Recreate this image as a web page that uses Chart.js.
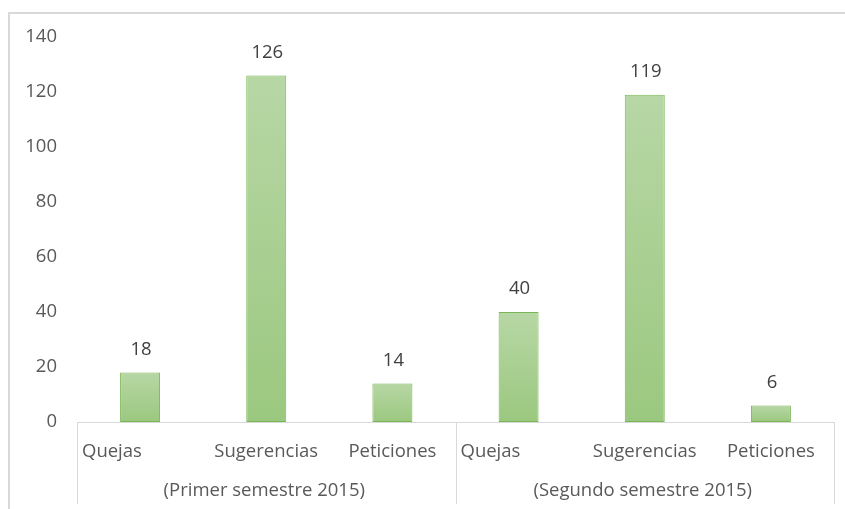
<!DOCTYPE html>
<html>
<head>
<meta charset="utf-8">
<script src="https://cdn.jsdelivr.net/npm/chart.js@4/dist/chart.umd.min.js"></script>
<style>
  html, body { margin: 0; padding: 0; background: #fff; }
  #wrap { position: relative; width: 845px; height: 509px; }
  #frame {
    position: absolute; left: 8px; top: 12px; right: 0; bottom: 0;
    border-top: 2px solid #d9d9d9; border-left: 2px solid #d9d9d9;
  }
  #chartCanvas { position: absolute; left: 0; top: 0; }
</style>
</head>
<body>
<div id="wrap">
  <div id="frame"></div>
  <canvas id="chartCanvas" width="845" height="509"></canvas>
</div>
<script>
// --- data ---
const groups = ["(Primer semestre 2015)", "(Segundo semestre 2015)"];
const categories = ["Quejas", "Sugerencias", "Peticiones"];
const primerSemestre = [18, 126, 14];
const segundoSemestre = [40, 119, 6];
const yTicks = [0, 20, 40, 60, 80, 100, 120, 140];

const labels = groups.flatMap(() => categories);
const values = [...primerSemestre, ...segundoSemestre];

const FONT = "'Open Sans', sans-serif";
const FONT_SIZE = 18.5;
const GRID = "#d9d9d9";

// per-bar vertical gradient, lighter at the top
function barFill(ctx) {
  const chart = ctx.chart;
  const y = chart.scales.y;
  if (!y || ctx.raw == null) return "#a9d08e";
  const top = y.getPixelForValue(ctx.raw);
  const bottom = y.getPixelForValue(0);
  if (!isFinite(top) || !isFinite(bottom) || top === bottom) return "#a9d08e";
  const g = chart.ctx.createLinearGradient(0, top, 0, bottom);
  g.addColorStop(0, "#b7d7a5");
  g.addColorStop(1, "#9bc87f");
  return g;
}

// value labels above the bars
const valueLabels = {
  id: "valueLabels",
  afterDatasetsDraw(chart) {
    const { ctx } = chart;
    const meta = chart.getDatasetMeta(0);
    ctx.save();
    ctx.font = FONT_SIZE + "px " + FONT;
    ctx.fillStyle = "#404040";
    ctx.textAlign = "center";
    ctx.textBaseline = "middle";
    meta.data.forEach((bar, i) => {
      ctx.fillText(String(values[i]), bar.x + 1, bar.y - 23);
    });
    ctx.restore();
  }
};

// two-level category axis: axis line, separators, category and group labels
const groupedAxis = {
  id: "groupedAxis",
  afterDraw(chart) {
    const { ctx, chartArea } = chart;
    const x = chart.scales.x;
    const n = categories.length;
    const step = (chartArea.right - chartArea.left) / labels.length;
    const base = chartArea.bottom;
    ctx.save();
    ctx.strokeStyle = GRID;
    ctx.lineWidth = 1;
    ctx.beginPath();
    ctx.moveTo(chartArea.left, base + 0.5);
    ctx.lineTo(chartArea.right, base + 0.5);
    for (let g = 0; g <= groups.length; g++) {
      const px = Math.round(chartArea.left + g * n * step) + 0.5;
      ctx.moveTo(px, base);
      ctx.lineTo(px, base + 82);
    }
    ctx.stroke();

    ctx.font = FONT_SIZE + "px " + FONT;
    ctx.fillStyle = "#595959";
    ctx.textBaseline = "middle";
    labels.forEach((lab, i) => {
      const cx = x.getPixelForValue(i);
      if (i % n === 0) {
        ctx.textAlign = "left";
        ctx.fillText(lab, cx - step / 2 + 5, base + 30);
      } else {
        ctx.textAlign = "center";
        ctx.fillText(lab, cx, base + 30);
      }
    });
    ctx.textAlign = "center";
    groups.forEach((grp, g) => {
      const first = x.getPixelForValue(g * n);
      const last = x.getPixelForValue(g * n + n - 1);
      ctx.fillText(grp, (first + last) / 2 - 2, base + 69);
    });
    ctx.restore();
  }
};

new Chart(document.getElementById("chartCanvas"), {
  type: "bar",
  data: {
    labels,
    datasets: [{
      data: values,
      backgroundColor: barFill,
      borderColor: "#78b655",
      borderWidth: 1,
      borderSkipped: false,
      barPercentage: 0.317,
      categoryPercentage: 1
    }]
  },
  options: {
    responsive: false,
    animation: false,
    layout: { padding: { top: 37, right: 11, bottom: 87, left: 0 } },
    plugins: {
      legend: { display: false },
      tooltip: { enabled: false }
    },
    scales: {
      x: {
        afterFit: (s) => { s.height = 0; },
        ticks: { display: false },
        grid: { display: false },
        border: { display: false }
      },
      y: {
        min: 0,
        max: 140,
        afterBuildTicks: (s) => { s.ticks = yTicks.map(v => ({ value: v })); },
        afterFit: (s) => { s.width = 77; },
        ticks: {
          padding: 20,
          color: "#595959",
          font: { family: FONT, size: FONT_SIZE }
        },
        grid: { display: false, drawTicks: false },
        border: { display: false }
      }
    }
  },
  plugins: [valueLabels, groupedAxis]
});
</script>
</body>
</html>
